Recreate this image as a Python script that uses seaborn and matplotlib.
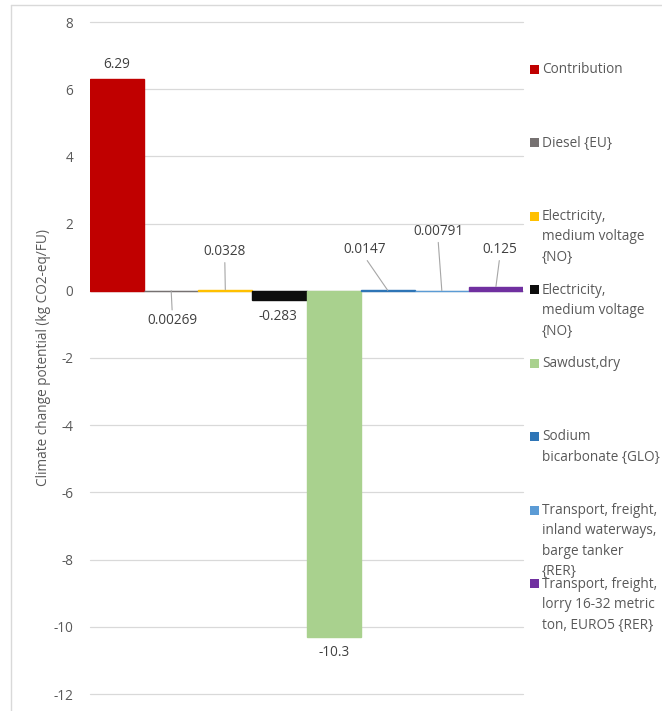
import matplotlib
matplotlib.use("Agg")
import matplotlib.pyplot as plt
import seaborn as sns
import pandas as pd
from matplotlib.patches import Rectangle
from matplotlib.lines import Line2D

# ---- data ----
legend_labels = [
    "Contribution",
    "Diesel {EU}",
    "Electricity,\nmedium voltage\n{NO}",
    "Electricity,\nmedium voltage\n{NO}",
    "Sawdust,dry",
    "Sodium\nbicarbonate {GLO}",
    "Transport, freight,\ninland waterways,\nbarge tanker\n{RER}",
    "Transport, freight,\nlorry 16-32 metric\nton, EURO5 {RER}",
]
values = [6.29, 0.00269, 0.0328, -0.283, -10.3, 0.0147, 0.00791, 0.125]
colors = ["#C00000", "#767171", "#FFC000", "#0D0D0D", "#A9D18E", "#2E75B6", "#5B9BD5", "#7030A0"]
y_ticks = [-12, -10, -8, -6, -4, -2, 0, 2, 4, 6, 8]
y_label = "Climate change potential (kg CO2-eq/FU)"

# label placement (style): text position (x, y in data units) and whether a leader line is drawn
label_pos = [(0.0, 6.73), (1.02, -0.89), (1.99, 1.16), (2.97, -0.77),
             (4.01, -10.77), (4.58, 1.22), (5.93, 1.76), (7.07, 1.22)]
leader = [False, True, True, False, False, True, True, True]

sns.set_theme(style="white")
plt.rcParams["font.family"] = ["Open Sans", "DejaVu Sans"]
FS = 9.8
TXT = "#595959"

W, H = 662, 711
fig = plt.figure(figsize=(W / 100, H / 100), dpi=100)
ax = fig.add_axes([90 / W, 1 - 694 / H, (523 - 90) / W, (694 - 22) / H])

idx = list(range(len(values)))
df = pd.DataFrame({"item": idx, "value": values})
sns.barplot(data=df, x="item", y="value", hue="item", palette=colors,
            width=1.0, legend=False, ax=ax, saturation=1, linewidth=0)
# thin bars stay visible (as in the original rendering)
for p in ax.patches:
    p.set_edgecolor(p.get_facecolor())
    p.set_linewidth(1.0)

ax.set_xlim(-0.5, len(values) - 0.5)
ax.set_ylim(-12, 8)
ax.set_yticks(y_ticks)
ax.set_yticklabels([str(t) for t in y_ticks], color=TXT, fontsize=FS)
ax.set_xticks([])
ax.set_xlabel("")
ax.set_ylabel(y_label, color=TXT, fontsize=FS, labelpad=2)
ax.tick_params(axis="y", length=0, pad=12)
for s in ax.spines.values():
    s.set_visible(False)
ax.yaxis.grid(True, color="#D9D9D9", linewidth=0.9)
ax.set_axisbelow(True)
for gl in ax.get_ygridlines():
    gl.set_clip_on(False)
ax.axhline(0, color="#D9D9D9", linewidth=0.9, zorder=0.5)

# data labels
for i, v in enumerate(values):
    tx, ty = label_pos[i]
    if leader[i]:
        above = ty > v
        ax.annotate(str(v), xy=(i, v), xytext=(tx, ty), ha="center", va="center",
                    fontsize=FS, color="#404040",
                    arrowprops=dict(arrowstyle="-", color="#A6A6A6", lw=0.8,
                                    shrinkA=0, shrinkB=0,
                                    relpos=(0.5, 0.0) if above else (0.5, 1.0)))
    else:
        ax.text(tx, ty, str(v), ha="center", va="center", fontsize=FS, color="#404040")

# legend (manual, evenly distributed like the original)
y0, dy = 69, 73.5
for i, (lab, c) in enumerate(zip(legend_labels, colors)):
    yc = y0 + dy * i
    fig.patches.append(Rectangle((530 / W, 1 - (yc + 4.5) / H), 9 / W, 9 / H,
                                 transform=fig.transFigure, facecolor=c, edgecolor="none"))
    fig.text(542 / W, 1 - (yc - 7) / H, lab, ha="left", va="top", fontsize=FS,
             color=TXT, linespacing=1.5)

# chart-area border (left and top visible)
fig.add_artist(Line2D([11 / W, 11 / W], [0, 1 - 5 / H], transform=fig.transFigure,
                      color="#D9D9D9", lw=1))
fig.add_artist(Line2D([11 / W, 1], [1 - 5 / H, 1 - 5 / H], transform=fig.transFigure,
                      color="#D9D9D9", lw=1))

fig.savefig("out.png", dpi=100, facecolor="white")
